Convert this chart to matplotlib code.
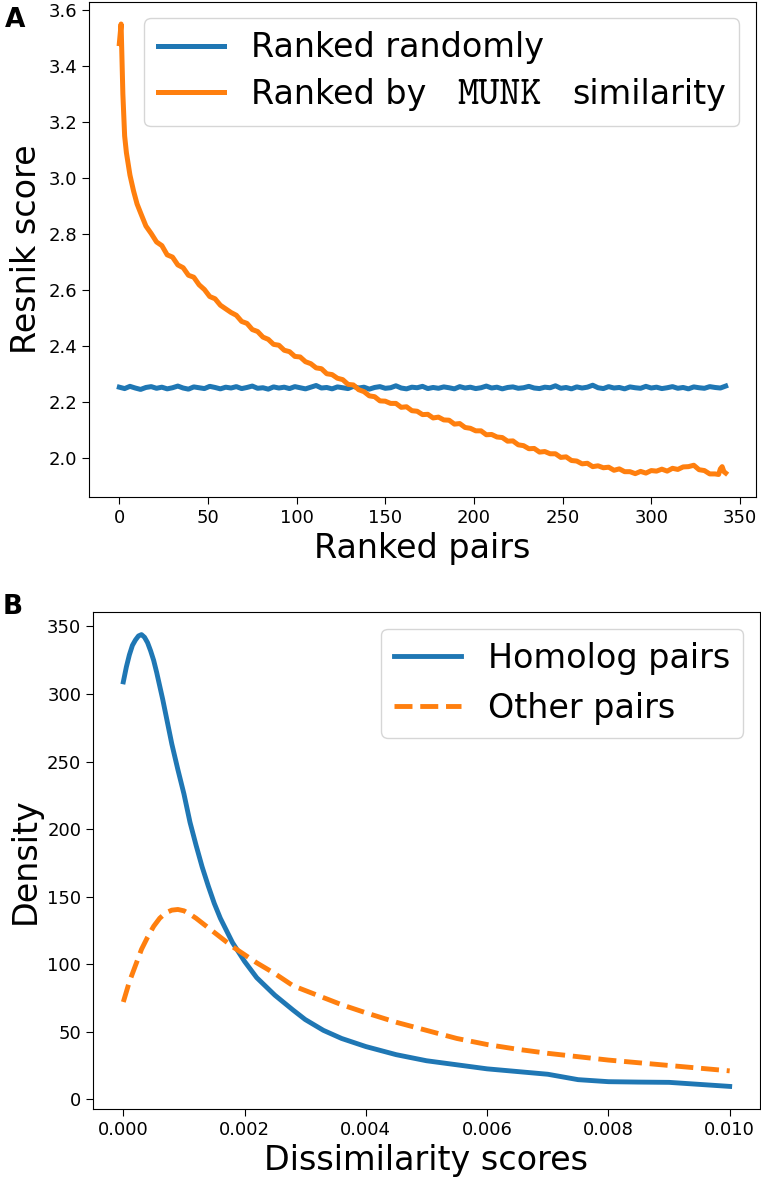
import matplotlib
matplotlib.use("Agg")
import matplotlib.pyplot as plt
from matplotlib.offsetbox import TextArea, HPacker
import numpy as np

plt.rcParams["font.family"] = "DejaVu Sans"

# panel A: Resnik score along ranked pairs
random_scores = [
    2.252, 2.247, 2.255, 2.249, 2.244, 2.251, 2.254, 2.248, 2.252, 2.246,
    2.250, 2.256, 2.249, 2.245, 2.253, 2.250, 2.247, 2.255, 2.251, 2.246,
    2.252, 2.249, 2.254, 2.247, 2.251, 2.256, 2.248, 2.250, 2.245, 2.253,
    2.249, 2.252, 2.247, 2.254, 2.250, 2.246, 2.252, 2.258, 2.249, 2.251,
    2.246, 2.253, 2.250, 2.247, 2.255, 2.249, 2.252, 2.245, 2.251, 2.254,
    2.248, 2.250, 2.257, 2.249, 2.246, 2.252, 2.250, 2.255, 2.247, 2.251,
    2.248, 2.253, 2.250, 2.246, 2.254, 2.249, 2.252, 2.247, 2.250, 2.256,
    2.249, 2.252, 2.246, 2.251, 2.253, 2.248, 2.250, 2.255, 2.249, 2.247,
    2.252, 2.250, 2.257, 2.248, 2.251, 2.246, 2.253, 2.249, 2.252, 2.259,
    2.250, 2.247, 2.254, 2.249, 2.251, 2.246, 2.253, 2.250, 2.248, 2.255,
    2.249, 2.252, 2.247, 2.250, 2.254, 2.248, 2.251, 2.246, 2.253, 2.250,
    2.248, 2.254, 2.251, 2.249, 2.256,
]
random_ranks = np.linspace(0, 342, len(random_scores))

munk_ranks = [
    0, 1, 2, 3, 4, 5, 6, 8, 10, 12, 15, 18, 21, 24, 27, 30, 33, 36, 39, 42,
    45, 48, 51, 54, 57, 60, 63, 66, 69, 72, 75, 78, 81, 84, 87, 90, 93, 96,
    99, 102, 105, 108, 111, 114, 117, 120, 123, 126, 129, 132, 135, 138, 141,
    144, 147, 150, 153, 156, 159, 162, 165, 168, 171, 174, 177, 180, 183, 186,
    189, 192, 195, 198, 201, 204, 207, 210, 213, 216, 219, 222, 225, 228, 231,
    234, 237, 240, 243, 246, 249, 252, 255, 258, 261, 264, 267, 270, 273, 276,
    279, 282, 285, 288, 291, 294, 297, 300, 303, 306, 309, 312, 315, 318, 321,
    324, 327, 330, 333, 336, 338, 339, 340, 341, 342,
]
munk_scores = [
    3.48, 3.55, 3.30, 3.15, 3.09, 3.05, 3.01, 2.954, 2.907, 2.875, 2.828,
    2.801, 2.771, 2.758, 2.725, 2.717, 2.689, 2.679, 2.652, 2.645, 2.618,
    2.601, 2.576, 2.568, 2.545, 2.532, 2.519, 2.509, 2.487, 2.480, 2.458,
    2.451, 2.431, 2.423, 2.405, 2.402, 2.384, 2.379, 2.362, 2.360, 2.343,
    2.336, 2.321, 2.318, 2.300, 2.297, 2.284, 2.279, 2.262, 2.260, 2.243,
    2.236, 2.221, 2.218, 2.203, 2.202, 2.194, 2.194, 2.180, 2.182, 2.168,
    2.166, 2.154, 2.155, 2.142, 2.145, 2.135, 2.134, 2.120, 2.122, 2.108,
    2.105, 2.096, 2.096, 2.082, 2.083, 2.074, 2.072, 2.059, 2.060, 2.046,
    2.043, 2.032, 2.033, 2.020, 2.022, 2.014, 2.014, 2.001, 2.003, 1.990,
    1.988, 1.978, 1.980, 1.968, 1.971, 1.964, 1.966, 1.955, 1.960, 1.950,
    1.950, 1.943, 1.951, 1.945, 1.954, 1.952, 1.959, 1.952, 1.962, 1.958,
    1.967, 1.968, 1.973, 1.957, 1.954, 1.942, 1.942, 1.940, 1.960, 1.968,
    1.950, 1.945,
]

# panel B: density of dissimilarity scores
homolog_x = [
    0.0, 0.00005, 0.0001, 0.00015, 0.0002, 0.00025, 0.0003, 0.00035, 0.0004,
    0.00045, 0.0005, 0.00055, 0.0006, 0.00065, 0.0007, 0.0008,
    0.0009, 0.001, 0.0011, 0.0012, 0.0013, 0.0014, 0.0015, 0.0016, 0.0018,
    0.002, 0.0022, 0.0025, 0.0028, 0.003, 0.0033, 0.0036, 0.004, 0.0045,
    0.005, 0.0055, 0.006, 0.0065, 0.007, 0.0075, 0.008, 0.0085, 0.009,
    0.0095, 0.01,
]
homolog_density = [
    309, 320, 329, 336, 340, 343, 344, 342, 338, 332, 325, 316, 306, 296,
    285, 263, 244, 226, 205, 188, 172, 158, 145, 134, 116, 102, 90, 77, 66,
    59, 51, 45, 39, 33, 28.5, 25.5, 22.5, 20.5, 18.5, 14.5, 13, 12.7, 12.5,
    11, 9.5,
]
other_x = [
    0.0, 0.0001, 0.0002, 0.0003, 0.0004, 0.0005, 0.0006, 0.0007, 0.0008,
    0.0009, 0.001, 0.0011, 0.0012, 0.0014, 0.0016, 0.0018, 0.002, 0.0022,
    0.0025, 0.0028, 0.0032, 0.0036, 0.004, 0.0045, 0.005, 0.0055, 0.006,
    0.0065, 0.007, 0.0075, 0.008, 0.0085, 0.009, 0.0095, 0.01,
]
other_density = [
    72, 87, 99, 111, 120, 128, 134, 138, 140, 140.5, 139.5, 137, 134, 127,
    120, 113, 107, 101, 93, 84, 77, 70, 64, 57, 51, 45, 40.5, 37, 34, 31.5,
    29, 27, 25, 23, 21,
]

W, H = 761, 1180
fig = plt.figure(figsize=(W / 100, H / 100), dpi=100)
ax1 = fig.add_axes([89 / W, 1 - 497 / H, 667 / W, 495.5 / H])
ax2 = fig.add_axes([93 / W, 1 - 1109 / H, 667 / W, 497 / H])

ax1.plot(random_ranks, random_scores, color="#1f77b4", lw=3.6, label="Ranked randomly")
ax1.plot(munk_ranks, munk_scores, color="#ff7f0e", lw=3.6, label="Ranked by")
ax1.set_xticks([0, 50, 100, 150, 200, 250, 300, 350])
ax1.set_yticks([2.0, 2.2, 2.4, 2.6, 2.8, 3.0, 3.2, 3.4, 3.6])
ax1.set_xlabel("Ranked pairs", fontsize=24)
ax1.set_ylabel("Resnik score", fontsize=24)
leg1 = ax1.legend(loc="upper right", fontsize=24, handlelength=2.0, labelspacing=0.4)

# second legend row: "Ranked by MUNK similarity" with MUNK in a typewriter face
row = leg1._legend_handle_box.get_children()[0].get_children()[1]
label_parts = HPacker(
    children=[
        TextArea("Ranked by", textprops=dict(fontsize=24)),
        TextArea("MUNK", textprops=dict(family="cmtt10", fontsize=29)),
        TextArea("similarity", textprops=dict(fontsize=24)),
    ],
    pad=0, sep=22, align="baseline")
label_parts.set_figure(fig)
row._children[1] = label_parts

ax2.plot(homolog_x, homolog_density, color="#1f77b4", lw=3.5, label="Homolog pairs")
ax2.plot(other_x, other_density, color="#ff7f0e", lw=3.5, ls="--", label="Other pairs")
ax2.set_xticks([0.0, 0.002, 0.004, 0.006, 0.008, 0.010])
ax2.set_xticklabels(["0.000", "0.002", "0.004", "0.006", "0.008", "0.010"])
ax2.set_yticks([0, 50, 100, 150, 200, 250, 300, 350])
ax2.set_xlabel("Dissimilarity scores", fontsize=24)
ax2.set_ylabel("Density", fontsize=24)
ax2.legend(loc="upper right", fontsize=24, handlelength=2.0)

for ax in (ax1, ax2):
    ax.tick_params(labelsize=13, length=5)

fig.text(5 / W, 1 - 20 / H, "A", fontsize=19, fontweight="bold", va="center")
fig.text(3 / W, 1 - 607 / H, "B", fontsize=19, fontweight="bold", va="center")

fig.savefig("out.png", dpi=100)
